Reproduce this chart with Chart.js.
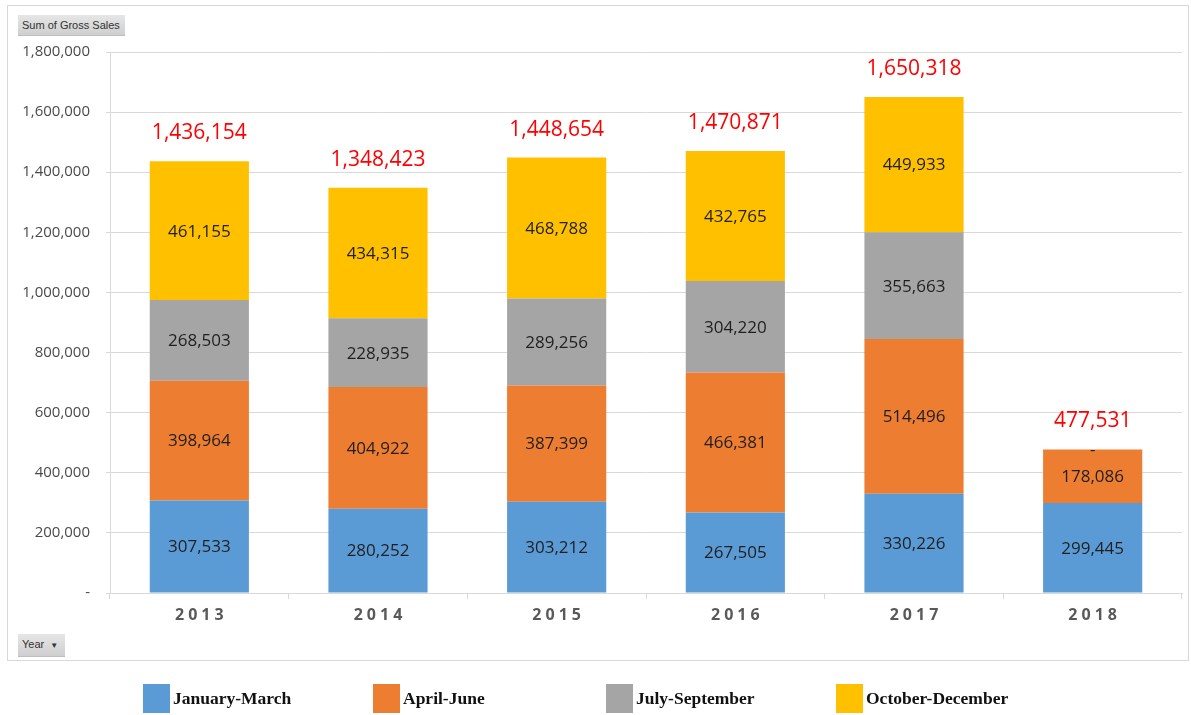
<!DOCTYPE html>
<html lang="en">
<head>
  <meta charset="UTF-8">
  <title>Sum of Gross Sales by Year</title>
  <script src="https://cdn.jsdelivr.net/npm/chart.js"></script>
  <style>
    body {
      margin: 0;
      width: 1191px;
      height: 715px;
      background: #fff;
      font-family: "Open Sans", sans-serif;
      position: relative;
      overflow: hidden;
    }
    .frame {
      position: absolute;
      left: 7px; top: 5px;
      width: 1182px; height: 656px;
      border: 1px solid #d9d9d9;
      box-sizing: border-box;
    }
    #wrap {
      position: absolute;
      left: 0; top: 0;
      width: 1191px; height: 715px;
    }
    .btn {
      position: absolute;
      background: linear-gradient(#e6e6e6, #cfcfcf);
      border-bottom: 1px solid #bdbdbd;
      color: #333;
      font-size: 11px;
      line-height: 20px;
      padding: 0 4px;
      font-family: "Liberation Sans", sans-serif;
    }
    /* legend below the frame */
    .legend {
      position: absolute;
      top: 684px;
      left: 0;
      height: 29px;
    }
    .legend .item {
      position: absolute;
      top: 0;
      white-space: nowrap;
      font-family: "Liberation Serif", serif;
      font-weight: bold;
      font-size: 17.5px;
      color: #111;
    }
    .legend .box {
      display: inline-block;
      width: 27px;
      height: 29px;
      vertical-align: middle;
      margin-right: 3px;
    }
    .legend span.txt {
      vertical-align: middle;
    }
  </style>
</head>
<body>
  <div class="frame"></div>
  <div id="wrap"><canvas id="chart" width="1191" height="715"></canvas></div>
  <div class="btn" style="left:18px; top:15px; width:99px;">Sum of Gross Sales</div>
  <div class="btn" style="left:18px; top:634px; width:39px;">Year &nbsp;<span style="font-size:8px;">&#9660;</span></div>
  <div class="legend" id="legend"></div>

  <script>
    // data
    const years = ['2013', '2014', '2015', '2016', '2017', '2018'];
    const janMar = [307533, 280252, 303212, 267505, 330226, 299445];
    const aprJun = [398964, 404922, 387399, 466381, 514496, 178086];
    const julSep = [268503, 228935, 289256, 304220, 355663, 0];
    const octDec = [461155, 434315, 468788, 432765, 449933, null];
    const totals = [1436154, 1348423, 1448654, 1470871, 1650318, 477531];

    const seriesNames = ['January-March', 'April-June', 'July-September', 'October-December'];
    const seriesColors = ['#5b9bd5', '#ed7d31', '#a5a5a5', '#ffc000'];
    const seriesData = [janMar, aprJun, julSep, octDec];

    const fmt = v => v.toLocaleString('en-US');

    // legend (html, fixed spacing like the original)
    const legendX = [143, 373, 606, 836];
    const legend = document.getElementById('legend');
    seriesNames.forEach((name, i) => {
      const it = document.createElement('div');
      it.className = 'item';
      it.style.left = legendX[i] + 'px';
      it.innerHTML = `<span class="box" style="background:${seriesColors[i]}"></span><span class="txt">${name}</span>`;
      legend.appendChild(it);
    });

    // value labels in each segment + red totals on top
    const barLabels = {
      id: 'barLabels',
      afterDatasetsDraw(chart) {
        const ctx = chart.ctx;
        ctx.save();
        ctx.textAlign = 'center';
        ctx.textBaseline = 'middle';
        ctx.font = '17px "Open Sans"';
        ctx.fillStyle = '#1f1f1f';
        chart.data.datasets.forEach((ds, i) => {
          const meta = chart.getDatasetMeta(i);
          meta.data.forEach((el, j) => {
            const v = ds.data[j];
            if (v === null || v === undefined) return;
            const y = (el.y + el.base) / 2;
            ctx.fillText(v === 0 ? '-' : fmt(v), el.x, v === 0 ? y + 1 : y + 1);
          });
        });
        // totals
        ctx.font = '21px "Open Sans"';
        ctx.fillStyle = '#ff0000';
        const ys = chart.scales.y;
        const first = chart.getDatasetMeta(0);
        totals.forEach((t, j) => {
          let sum = 0;
          seriesData.forEach(s => { sum += s[j] || 0; });
          ctx.fillText(fmt(t), first.data[j].x, ys.getPixelForValue(sum) - 28);
        });
        ctx.restore();
      },
      afterDraw(chart) {
        // spaced bold year labels
        const ctx = chart.ctx;
        const xs = chart.scales.x;
        ctx.save();
        ctx.font = 'bold 16px "Open Sans"';
        ctx.letterSpacing = '4px';
        ctx.fillStyle = '#595959';
        ctx.textAlign = 'center';
        ctx.textBaseline = 'middle';
        years.forEach((y, j) => {
          ctx.fillText(y, xs.getPixelForValue(j) + 2, 615);
        });
        ctx.restore();
      }
    };

    new Chart(document.getElementById('chart'), {
      type: 'bar',
      data: {
        labels: years,
        datasets: seriesNames.map((name, i) => ({
          label: name,
          data: seriesData[i],
          backgroundColor: seriesColors[i],
          borderWidth: 0,
          categoryPercentage: 1,
          barPercentage: 0.555
        }))
      },
      options: {
        responsive: false,
        animation: false,
        layout: { padding: { top: 52, right: 9, left: 0, bottom: 0 } },
        scales: {
          x: {
            stacked: true,
            afterFit: s => { s.height = 122; },
            ticks: { display: false },
            grid: {
              offset: true,
              drawOnChartArea: false,
              drawTicks: true,
              tickLength: 6,
              color: '#d9d9d9'
            },
            border: { color: '#d9d9d9' }
          },
          y: {
            stacked: true,
            min: 0,
            max: 1800000,
            afterFit: s => { s.width = 110; },
            ticks: {
              stepSize: 200000,
              padding: 16,
              color: '#4a4a4a',
              font: { family: '"Open Sans"', size: 15 },
              callback: v => v === 0 ? '-' : fmt(v)
            },
            grid: { color: '#d9d9d9', tickLength: 4 },
            border: { color: '#d9d9d9' }
          }
        },
        plugins: {
          legend: { display: false },
          tooltip: { enabled: false }
        }
      },
      plugins: [barLabels]
    });
  </script>
</body>
</html>
